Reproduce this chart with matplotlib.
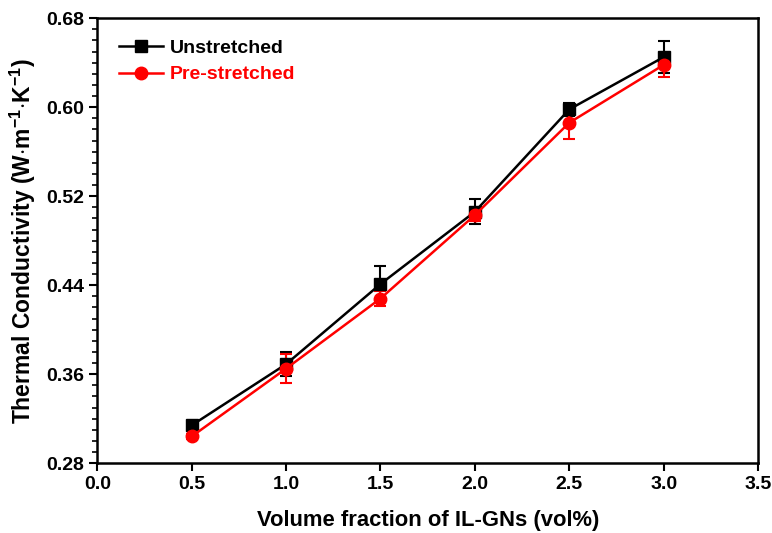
import numpy as np
import matplotlib
matplotlib.use('Agg')
import matplotlib.pyplot as plt
from matplotlib.ticker import MultipleLocator, FixedLocator, FormatStrFormatter
from matplotlib.lines import Line2D

# Data
volume_fraction = [0.5, 1.0, 1.5, 2.0, 2.5, 3.0]
unstretched = [0.314, 0.369, 0.441, 0.506, 0.598, 0.645]
unstretched_err = [0.004, 0.011, 0.016, 0.011, 0.006, 0.014]
prestretched = [0.304, 0.365, 0.428, 0.503, 0.586, 0.638]
prestretched_err = [0.002, 0.013, 0.007, 0.005, 0.015, 0.011]
y_ticks = [0.28, 0.36, 0.44, 0.52, 0.60, 0.68]

plt.rcParams['font.family'] = ['Liberation Sans', 'DejaVu Sans']
plt.rcParams['font.weight'] = 'bold'
plt.rcParams['mathtext.fontset'] = 'custom'
plt.rcParams['mathtext.rm'] = 'Liberation Sans:bold'
plt.rcParams['mathtext.bf'] = 'Liberation Sans:bold'

fig = plt.figure(figsize=(7.72, 5.33), dpi=100)
ax = fig.add_axes([0.126, 0.131, 0.856, 0.835])

ax.errorbar(volume_fraction, unstretched, yerr=unstretched_err, color='black',
            marker='s', markersize=8, linewidth=1.8, capsize=4, capthick=1.5,
            elinewidth=1.5)
ax.errorbar(volume_fraction, prestretched, yerr=prestretched_err, color='red',
            marker='o', markersize=9, linewidth=1.8, capsize=4, capthick=1.5,
            elinewidth=1.5)

ax.set_xlim(0, 3.5)
ax.set_ylim(0.28, 0.68)
ax.xaxis.set_major_locator(MultipleLocator(0.5))
ax.yaxis.set_major_locator(FixedLocator(y_ticks))
ax.yaxis.set_minor_locator(MultipleLocator(0.01))
ax.xaxis.set_major_formatter(FormatStrFormatter('%.1f'))
ax.yaxis.set_major_formatter(FormatStrFormatter('%.2f'))

ax.tick_params(axis='both', which='major', direction='out', length=6, width=1.5,
               labelsize=14)
ax.tick_params(axis='y', which='minor', direction='out', length=3.5, width=1.2)
for sp in ax.spines.values():
    sp.set_linewidth(1.8)

ax.set_xlabel('Volume fraction of IL-GNs (vol%)', fontsize=15.8, fontweight='bold', labelpad=12)
ax.set_ylabel(r'Thermal Conductivity (W$\cdot$m$^{-1}$$\cdot$K$^{-1}$)',
              fontsize=16.5, fontweight='bold', labelpad=6)

handles = [Line2D([], [], color='black', marker='s', markersize=8, linewidth=1.8),
           Line2D([], [], color='red', marker='o', markersize=9, linewidth=1.8)]
leg = ax.legend(handles, ['Unstretched', 'Pre-stretched'], loc='upper left',
                frameon=False, fontsize=14, handlelength=2.3, handletextpad=0.35,
                borderaxespad=0.7, labelspacing=0.45)
for txt, col in zip(leg.get_texts(), ['black', 'red']):
    txt.set_color(col)

plt.savefig('out.png', dpi=100)
